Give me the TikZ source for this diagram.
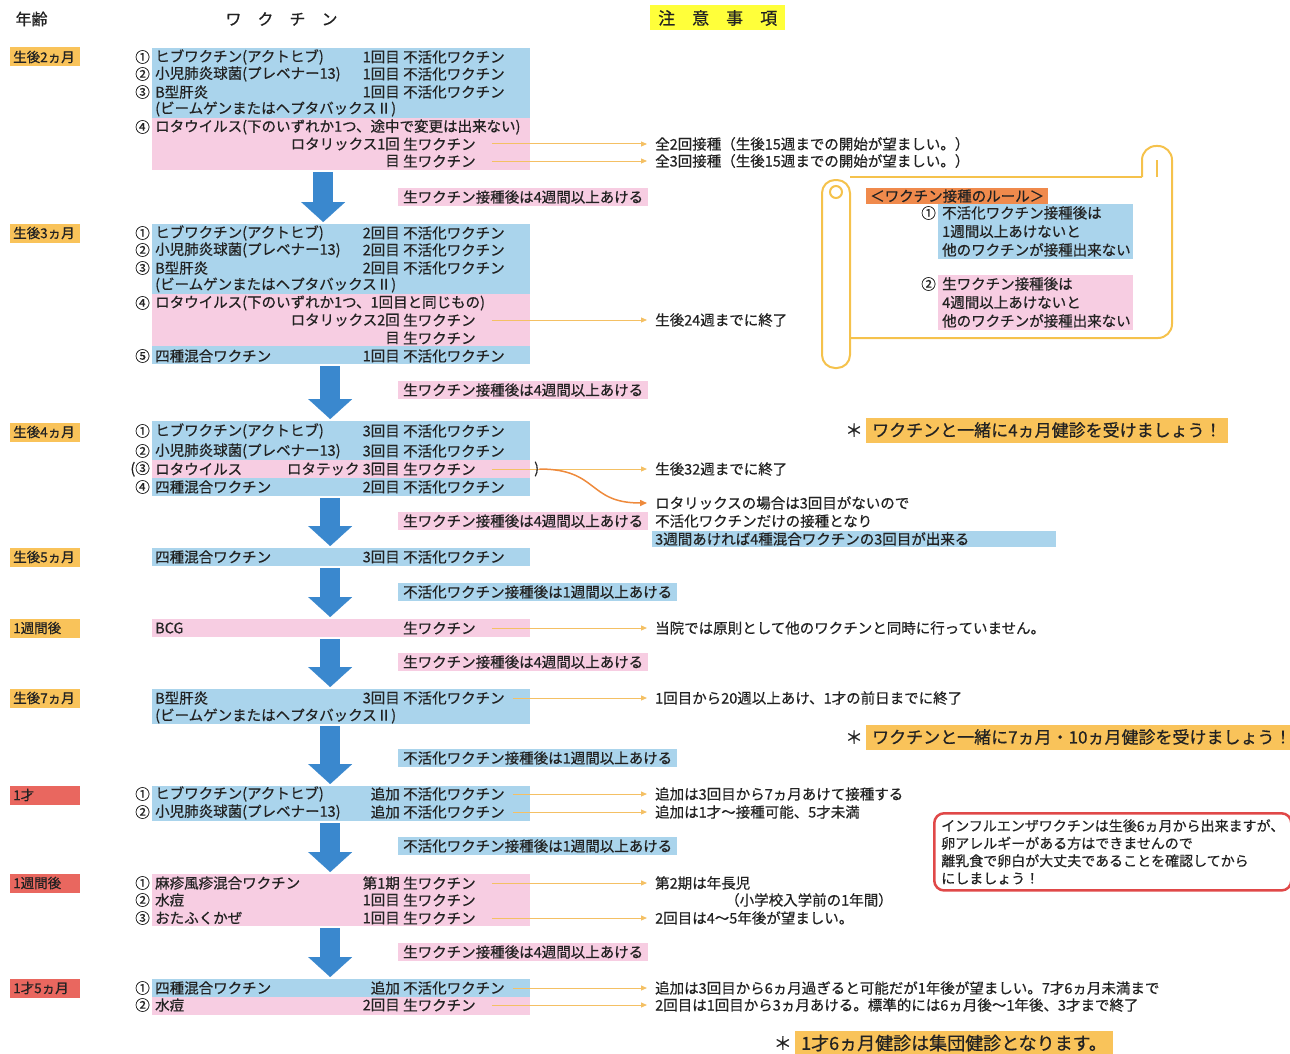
\documentclass[tikz,border=0pt]{standalone}
\usepackage{fontspec}
\setmainfont[FakeBold=0.6]{Noto Sans CJK JP}
\usetikzlibrary{arrows.meta}

\definecolor{vblue}{HTML}{AAD4EC}
\definecolor{vpink}{HTML}{F7CDE2}
\definecolor{ageor}{HTML}{F9C35A}
\definecolor{agered}{HTML}{E9675F}
\definecolor{headyel}{HTML}{FFFF3A}
\definecolor{arrowc}{HTML}{3A88CE}
\definecolor{leadc}{HTML}{F4C064}
\definecolor{curvec}{HTML}{EE8A3C}
\definecolor{ruleor}{HTML}{F08A4C}
\definecolor{scrollc}{HTML}{F5C24C}
\definecolor{fluc}{HTML}{E04848}
\definecolor{inkc}{HTML}{222222}

\newcommand{\vrow}[6]{%
  \node[num] (#1n) at (150,#2) {#3};
  \node[vtxt] (#1v) at (155,#2) {#4};
  \node[dose] (#1d) at (400,#2) {#5};
  \node[vtxt] (#1t) at (403,#2) {#6};
}

\begin{document}
\begin{tikzpicture}[x=1pt, y=-1pt,
  every node/.style={font=\fontsize{14.5}{17.5}\selectfont, text=inkc},
  vtxt/.style={anchor=west, inner sep=0pt},
  num/.style={anchor=east, inner sep=0pt},
  dose/.style={anchor=east, inner sep=0pt},
  bluebg/.style={fill=vblue, inner sep=0pt, anchor=north west, minimum width=378pt},
  pinkbg/.style={bluebg, fill=vpink},
  agebox/.style={fill=ageor, anchor=west, text width=64pt, align=left, inner xsep=3pt, inner ysep=2pt, minimum height=19pt, font=\fontsize{13.5}{16}\selectfont},
  ageredbox/.style={agebox, fill=agered},
  gappink/.style={fill=vpink, anchor=west, inner xsep=5pt, inner ysep=1.5pt, minimum height=18pt},
  gapblue/.style={gappink, fill=vblue},
  note/.style={anchor=west, inner sep=0pt},
  lead/.style={leadc, line width=1pt, -{Triangle[length=6pt,width=5pt]}},
  bigarrow/.style={arrowc, line width=20pt, -{Triangle[length=20pt,width=44pt,line width=0.1pt]}},
  checkup/.style={fill=ageor, anchor=west, inner xsep=6pt, minimum height=25pt, font=\fontsize{17}{20}\selectfont},
  starmark/.style={anchor=east, inner sep=0pt, font=\fontsize{17.5}{20}\selectfont},
  scroll/.style={scrollc, line width=2pt}]

\useasboundingbox (0,0) rectangle (1290,1054);

\node[anchor=west, font=\fontsize{16}{19}\selectfont] (hage) at (12,19) {年齢};
\node[anchor=west, font=\fontsize{16}{19}\selectfont] (hvac) at (222,19) {ワ　ク　チ　ン};
\node[anchor=west, fill=headyel, inner xsep=8pt, minimum height=25pt, font=\fontsize{17}{20}\selectfont] (hnote) at (650,18) {注　意　事　項};

\node[agebox] (age1) at (10,57) {生後2ヵ月};
\node[agebox] (age2) at (10,233) {生後3ヵ月};
\node[agebox] (age3) at (10,432) {生後4ヵ月};
\node[agebox] (age4) at (10,557) {生後5ヵ月};
\node[agebox] (age5) at (10,628) {1週間後};
\node[agebox] (age6) at (10,698) {生後7ヵ月};
\node[ageredbox] (age7) at (10,795) {1才};
\node[ageredbox] (age8) at (10,883) {1週間後};
\node[ageredbox] (age9) at (10,988) {1才5ヵ月};

\node[bluebg, minimum height=70pt] (s1b) at (152,48) {};
\node[pinkbg, minimum height=52pt] (s1p) at (152,118) {};
\vrow{a1}{57}{①}{ヒブワクチン(アクトヒブ)}{1回目}{不活化ワクチン}
\vrow{a2}{74}{②}{小児肺炎球菌(プレベナー13)}{1回目}{不活化ワクチン}
\vrow{a3}{92}{③}{B型肝炎}{1回目}{不活化ワクチン}
\vrow{a4}{109}{}{(ビームゲンまたはヘプタバックスⅡ)}{}{}
\vrow{a5}{127}{④}{ロタウイルス(下のいずれか1つ、途中で変更は出来ない)}{}{}
\vrow{a6}{144}{}{}{ロタリックス1回}{生ワクチン}
\vrow{a7}{161}{}{}{目}{生ワクチン}
\node[note] (na6) at (655,144) {全2回接種（生後15週までの開始が望ましい。）};
\node[note] (na7) at (655,161) {全3回接種（生後15週までの開始が望ましい。）};
\draw[lead] ([xshift=16pt]a6t.east) -- ([xshift=-8pt]na6.west);
\draw[lead] ([xshift=16pt]a7t.east) -- ([xshift=-8pt]na7.west);

\node[gappink] (g1) at (398,197) {生ワクチン接種後は4週間以上あける};

\node[bluebg, minimum height=70pt] (s2b) at (152,224) {};
\node[pinkbg, minimum height=52pt] (s2p) at (152,294) {};
\node[bluebg, minimum height=18pt] (s2c) at (152,346) {};
\vrow{b1}{233}{①}{ヒブワクチン(アクトヒブ)}{2回目}{不活化ワクチン}
\vrow{b2}{250}{②}{小児肺炎球菌(プレベナー13)}{2回目}{不活化ワクチン}
\vrow{b3}{268}{③}{B型肝炎}{2回目}{不活化ワクチン}
\vrow{b4}{285}{}{(ビームゲンまたはヘプタバックスⅡ)}{}{}
\vrow{b5}{303}{④}{ロタウイルス(下のいずれか1つ、1回目と同じもの)}{}{}
\vrow{b6}{320}{}{}{ロタリックス2回}{生ワクチン}
\vrow{b7}{338}{}{}{目}{生ワクチン}
\vrow{b8}{356}{⑤}{四種混合ワクチン}{1回目}{不活化ワクチン}
\node[note] (nb6) at (655,320) {生後24週までに終了};
\draw[lead] ([xshift=16pt]b6t.east) -- ([xshift=-8pt]nb6.west);

\node[gappink] (g2) at (398,390) {生ワクチン接種後は4週間以上あける};

\node[bluebg, minimum height=39pt] (s3b) at (152,421) {};
\node[pinkbg, minimum height=18pt] (s3p) at (152,460) {};
\node[bluebg, minimum height=18pt] (s3c) at (152,478) {};
\vrow{c1}{431}{①}{ヒブワクチン(アクトヒブ)}{3回目}{不活化ワクチン}
\vrow{c2}{451}{②}{小児肺炎球菌(プレベナー13)}{3回目}{不活化ワクチン}
\vrow{c3}{469}{(③}{ロタウイルス}{ロタテック\ 3回目}{生ワクチン}
\vrow{c4}{487}{④}{四種混合ワクチン}{2回目}{不活化ワクチン}
\node[note] (nc3) at (655,469) {生後32週までに終了};
\draw[lead] ([xshift=16pt]c3t.east) -- ([xshift=-8pt]nc3.west);
\node[vtxt] (c3p) at (534,469) {)};
\node[note] (nc3b) at (655,503) {ロタリックスの場合は3回目がないので};
\node[note] (nc3c) at (655,521) {不活化ワクチンだけの接種となり};
\node[note, fill=vblue, inner xsep=3pt, inner ysep=1.5pt, text width=398pt] (nc3d) at (652,539) {3週間あければ4種混合ワクチンの3回目が出来る};
\draw[curvec, line width=1.5pt, -{Triangle[length=7pt,width=6pt]}] (c3p.east) .. controls +(60,0) and +(-60,0) .. ([xshift=-8pt]nc3b.west);
\node[starmark] (k1s) at (863,430) {＊};
\node[checkup] (k1) at (866,430) {ワクチンと一緒に4ヵ月健診を受けましょう！};

\node[gappink] (g3) at (398,521) {生ワクチン接種後は4週間以上あける};

\node[bluebg, minimum height=18pt] (s4b) at (152,548) {};
\vrow{d1}{557}{}{四種混合ワクチン}{3回目}{不活化ワクチン}

\node[gapblue] (g4) at (398,592) {不活化ワクチン接種後は1週間以上あける};

\node[pinkbg, minimum height=18pt] (s5p) at (152,619) {};
\vrow{e1}{628}{}{BCG}{}{生ワクチン}
\node[note] (ne1) at (655,628) {当院では原則として他のワクチンと同時に行っていません。};
\draw[lead] ([xshift=16pt]e1t.east) -- ([xshift=-8pt]ne1.west);

\node[gappink] (g5) at (398,662) {生ワクチン接種後は4週間以上あける};

\node[bluebg, minimum height=35pt] (s6b) at (152,689) {};
\vrow{f1}{698}{}{B型肝炎}{3回目}{不活化ワクチン}
\vrow{f2}{716}{}{(ビームゲンまたはヘプタバックスⅡ)}{}{}
\node[note] (nf1) at (655,698) {1回目から20週以上あけ、1才の前日までに終了};
\draw[lead] ([xshift=8pt]f1t.east) -- ([xshift=-8pt]nf1.west);
\node[starmark] (k2s) at (863,737) {＊};
\node[checkup] (k2) at (866,737) {ワクチンと一緒に7ヵ月・10ヵ月健診を受けましょう！};

\node[gapblue] (g6) at (398,758) {不活化ワクチン接種後は1週間以上あける};

\node[bluebg, minimum height=35pt] (s7b) at (152,786) {};
\vrow{h1}{794}{①}{ヒブワクチン(アクトヒブ)}{追加}{不活化ワクチン}
\vrow{h2}{812}{②}{小児肺炎球菌(プレベナー13)}{追加}{不活化ワクチン}
\node[note] (nh1) at (655,794) {追加は3回目から7ヵ月あけて接種する};
\node[note] (nh2) at (655,812) {追加は1才～接種可能、5才未満};
\draw[lead] ([xshift=8pt]h1t.east) -- ([xshift=-8pt]nh1.west);
\draw[lead] ([xshift=8pt]h2t.east) -- ([xshift=-8pt]nh2.west);
\node[anchor=north west, draw=fluc, line width=2.5pt, rounded corners=10pt, align=left, inner xsep=7pt, inner ysep=6pt, font=\fontsize{14}{17.5}\selectfont] (flu) at (933,812) {インフルエンザワクチンは生後6ヵ月から出来ますが、\\卵アレルギーがある方はできませんので\\離乳食で卵白が大丈夫であることを確認してから\\にしましょう！};

\node[gapblue] (g7) at (398,846) {不活化ワクチン接種後は1週間以上あける};

\node[pinkbg, minimum height=52pt] (s8p) at (152,874) {};
\vrow{i1}{883}{①}{麻疹風疹混合ワクチン}{第1期}{生ワクチン}
\vrow{i2}{900}{②}{水痘}{1回目}{生ワクチン}
\vrow{i3}{918}{③}{おたふくかぜ}{1回目}{生ワクチン}
\node[note] (ni1) at (655,883) {第2期は年長児};
\node[note] (ni1b) at (725,900) {（小学校入学前の1年間）};
\node[note] (ni3) at (655,918) {2回目は4～5年後が望ましい。};
\draw[lead] ([xshift=16pt]i1t.east) -- ([xshift=-8pt]ni1.west);
\draw[lead] ([xshift=16pt]i3t.east) -- ([xshift=-8pt]ni3.west);

\node[gappink] (g8) at (398,952) {生ワクチン接種後は4週間以上あける};

\node[bluebg, minimum height=18pt] (s9b) at (152,979) {};
\node[pinkbg, minimum height=18pt] (s9p) at (152,997) {};
\vrow{j1}{988}{①}{四種混合ワクチン}{追加}{不活化ワクチン}
\vrow{j2}{1005}{②}{水痘}{2回目}{生ワクチン}
\node[note] (nj1) at (655,988) {追加は3回目から6ヵ月過ぎると可能だが1年後が望ましい。7才6ヵ月未満まで};
\node[note] (nj2) at (655,1005) {2回目は1回目から3ヵ月あける。標準的には6ヵ月後～1年後、3才まで終了};
\draw[lead] ([xshift=8pt]j1t.east) -- ([xshift=-8pt]nj1.west);
\draw[lead] ([xshift=16pt]j2t.east) -- ([xshift=-8pt]nj2.west);
\node[starmark, font=\fontsize{18}{21}\selectfont] (k3s) at (792,1043) {＊};
\node[checkup, font=\fontsize{18}{21}\selectfont] (k3) at (795,1043) {1才6ヵ月健診は集団健診となります。};

\draw[bigarrow] ([xshift=-18pt,yshift=-2pt]s1p.south) -- ([xshift=-18pt,yshift=2pt]s2b.north);
\draw[bigarrow] ([xshift=-11pt,yshift=-2pt]s2c.south) -- ([xshift=-11pt,yshift=2pt]s3b.north);
\draw[bigarrow] ([xshift=-11pt,yshift=-2pt]s3c.south) -- ([xshift=-11pt,yshift=2pt]s4b.north);
\draw[bigarrow] ([xshift=-11pt,yshift=-2pt]s4b.south) -- ([xshift=-11pt,yshift=2pt]s5p.north);
\draw[bigarrow] ([xshift=-11pt,yshift=-2pt]s5p.south) -- ([xshift=-11pt,yshift=2pt]s6b.north);
\draw[bigarrow] ([xshift=-11pt,yshift=-2pt]s6b.south) -- ([xshift=-11pt,yshift=2pt]s7b.north);
\draw[bigarrow] ([xshift=-11pt,yshift=-2pt]s7b.south) -- ([xshift=-11pt,yshift=2pt]s8p.north);
\draw[bigarrow] ([xshift=-11pt,yshift=-2pt]s8p.south) -- ([xshift=-11pt,yshift=2pt]s9b.north);

\draw[scroll] (850,177) -- (1142,177);
\draw[scroll, rounded corners=14pt] (1142,177) -- (1142,146) -- (1172,146) -- (1172,338) -- (850,338);
\draw[scroll] (1157,177) -- (1157,160);
\draw[scroll, fill=white, rounded corners=13pt] (822,180) rectangle (850,368);
\draw[scroll] (836,192) circle[radius=6];

\node[anchor=west, fill=ruleor, inner xsep=4pt, inner ysep=1.5pt] (rh) at (866,196) {＜ワクチン接種のルール＞};
\node[num] (r1n) at (936,213) {①};
\node[anchor=north west, fill=vblue, align=left, inner xsep=4pt, inner ysep=2pt, text width=187pt, font=\fontsize{14.5}{18.5}\selectfont] (r1) at (938,204) {不活化ワクチン接種後は\\1週間以上あけないと\\他のワクチンが接種出来ない};
\node[num] (r2n) at (936,284) {②};
\node[anchor=north west, fill=vpink, align=left, inner xsep=4pt, inner ysep=2pt, text width=187pt, font=\fontsize{14.5}{18.5}\selectfont] (r2) at (938,275) {生ワクチン接種後は\\4週間以上あけないと\\他のワクチンが接種出来ない};
\end{tikzpicture}
\end{document}
